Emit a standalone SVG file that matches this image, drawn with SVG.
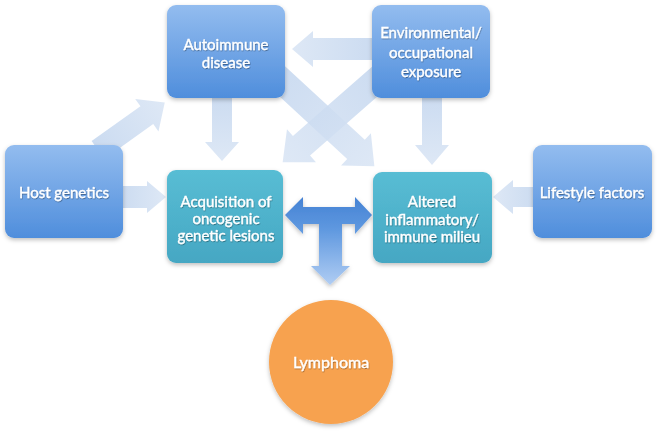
<svg xmlns="http://www.w3.org/2000/svg" width="657" height="431" viewBox="0 0 657 431">
<defs>
<linearGradient id="gBlue" x1="0" y1="0" x2="0" y2="1">
<stop offset="0" stop-color="#93bcef"/>
<stop offset="1" stop-color="#4f8edc"/>
</linearGradient>
<linearGradient id="gTeal" x1="0" y1="0" x2="0" y2="1">
<stop offset="0" stop-color="#58bdd4"/>
<stop offset="1" stop-color="#45a7c3"/>
</linearGradient>
<linearGradient id="gLight" x1="0" y1="0" x2="1" y2="0">
<stop offset="0" stop-color="#c2d5ee"/>
<stop offset="1" stop-color="#d8e4f4"/>
</linearGradient>
<linearGradient id="gT2" x1="0" y1="197" x2="0" y2="285" gradientUnits="userSpaceOnUse">
<stop offset="0" stop-color="#4582d4"/>
<stop offset="0.35" stop-color="#5d97df"/>
<stop offset="1" stop-color="#b0cdf3"/>
</linearGradient>
<filter id="sh" x="-20%" y="-20%" width="140%" height="140%">
<feDropShadow dx="0" dy="2" stdDeviation="2" flood-color="#000" flood-opacity="0.25"/>
</filter>
<filter id="tsh" x="-10%" y="-30%" width="120%" height="160%">
<feDropShadow dx="0.5" dy="1" stdDeviation="0.6" flood-color="#000" flood-opacity="0.35"/>
</filter>
</defs>
<style>
.light{fill:url(#gLight);opacity:0.85}
.bx{fill:url(#gBlue);filter:url(#sh)}
.tl{fill:url(#gTeal);filter:url(#sh)}
text{font-family:Lato,"Liberation Sans",sans-serif;font-size:15px;fill:#fff;stroke:#fff;stroke-width:0.35;text-anchor:middle;filter:url(#tsh)}
</style>
<g id="connectors">
<path class="light" transform="translate(98,150) rotate(-35.5)" d="M0,-11 L60,-11 L60,-20 L82,0 L60,20 L60,11 L0,11 Z"/>
<path class="light" transform="translate(120,197)" d="M0,-11 L27,-11 L27,-16 L46,0 L27,16 L27,11 L0,11 Z"/>
<path class="light" transform="translate(222,95) rotate(90)" d="M0,-10 L47,-10 L47,-17 L66,0 L47,17 L47,10 L0,10 Z"/>
<path class="light" transform="translate(432,95) rotate(90)" d="M0,-10 L50,-10 L50,-17 L70,0 L50,17 L50,10 L0,10 Z"/>
<path class="light" transform="translate(375,49) rotate(180)" d="M0,-11 L62,-11 L62,-18 L83,0 L62,18 L62,11 L0,11 Z"/>
<path class="light" transform="translate(536,197) rotate(180)" d="M0,-10 L23,-10 L23,-17 L43,0 L23,17 L23,10 L0,10 Z"/>
<path class="light" transform="translate(388,70) rotate(138.8)" d="M0,-13 L115,-13 L115,-22 L140,0 L115,22 L115,13 L0,13 Z"/>
<path class="light" transform="translate(270,70) rotate(42.7)" d="M0,-13 L117,-13 L117,-22 L142,0 L117,22 L117,13 L0,13 Z"/>
<path fill="url(#gT2)" filter="url(#sh)" d="M285,215 L303,197 L303,207 L355,207 L355,197 L372,215 L355,234 L355,224 L342,224 L342,266 L350,266 L330,285 L311,266 L319,266 L319,224 L303,224 L303,234 Z"/>
</g>
<g id="autoimmune">
<rect class="bx" x="167" y="5" width="118" height="93" rx="9"/>
<text x="226" y="50">Autoimmune</text>
<text x="226" y="68">disease</text>
</g>
<g id="environmental">
<rect class="bx" x="372" y="5" width="118" height="93" rx="9"/>
<text x="431" y="38">Environmental/</text>
<text x="431" y="58">occupational</text>
<text x="431" y="77">exposure</text>
</g>
<g id="host">
<rect class="bx" x="5" y="145" width="118" height="93" rx="9"/>
<text x="64" y="198">Host genetics</text>
</g>
<g id="lifestyle">
<rect class="bx" x="533" y="145" width="119" height="93" rx="9"/>
<text x="592" y="198">Lifestyle factors</text>
</g>
<g id="acquisition">
<rect class="tl" x="167" y="170" width="116" height="93" rx="9"/>
<text x="226" y="207">Acquisition of</text>
<text x="226" y="224">oncogenic</text>
<text x="226" y="241">genetic lesions</text>
</g>
<g id="altered">
<rect class="tl" x="373" y="172" width="119" height="91" rx="9"/>
<text x="432" y="207">Altered</text>
<text x="432" y="225">inflammatory/</text>
<text x="432" y="242">immune milieu</text>
</g>
<g id="lymphoma">
<circle cx="331" cy="362" r="62" fill="#f7a24f" filter="url(#sh)"/>
<text x="331" y="368" style="font-size:16px">Lymphoma</text>
</g>
</svg>
